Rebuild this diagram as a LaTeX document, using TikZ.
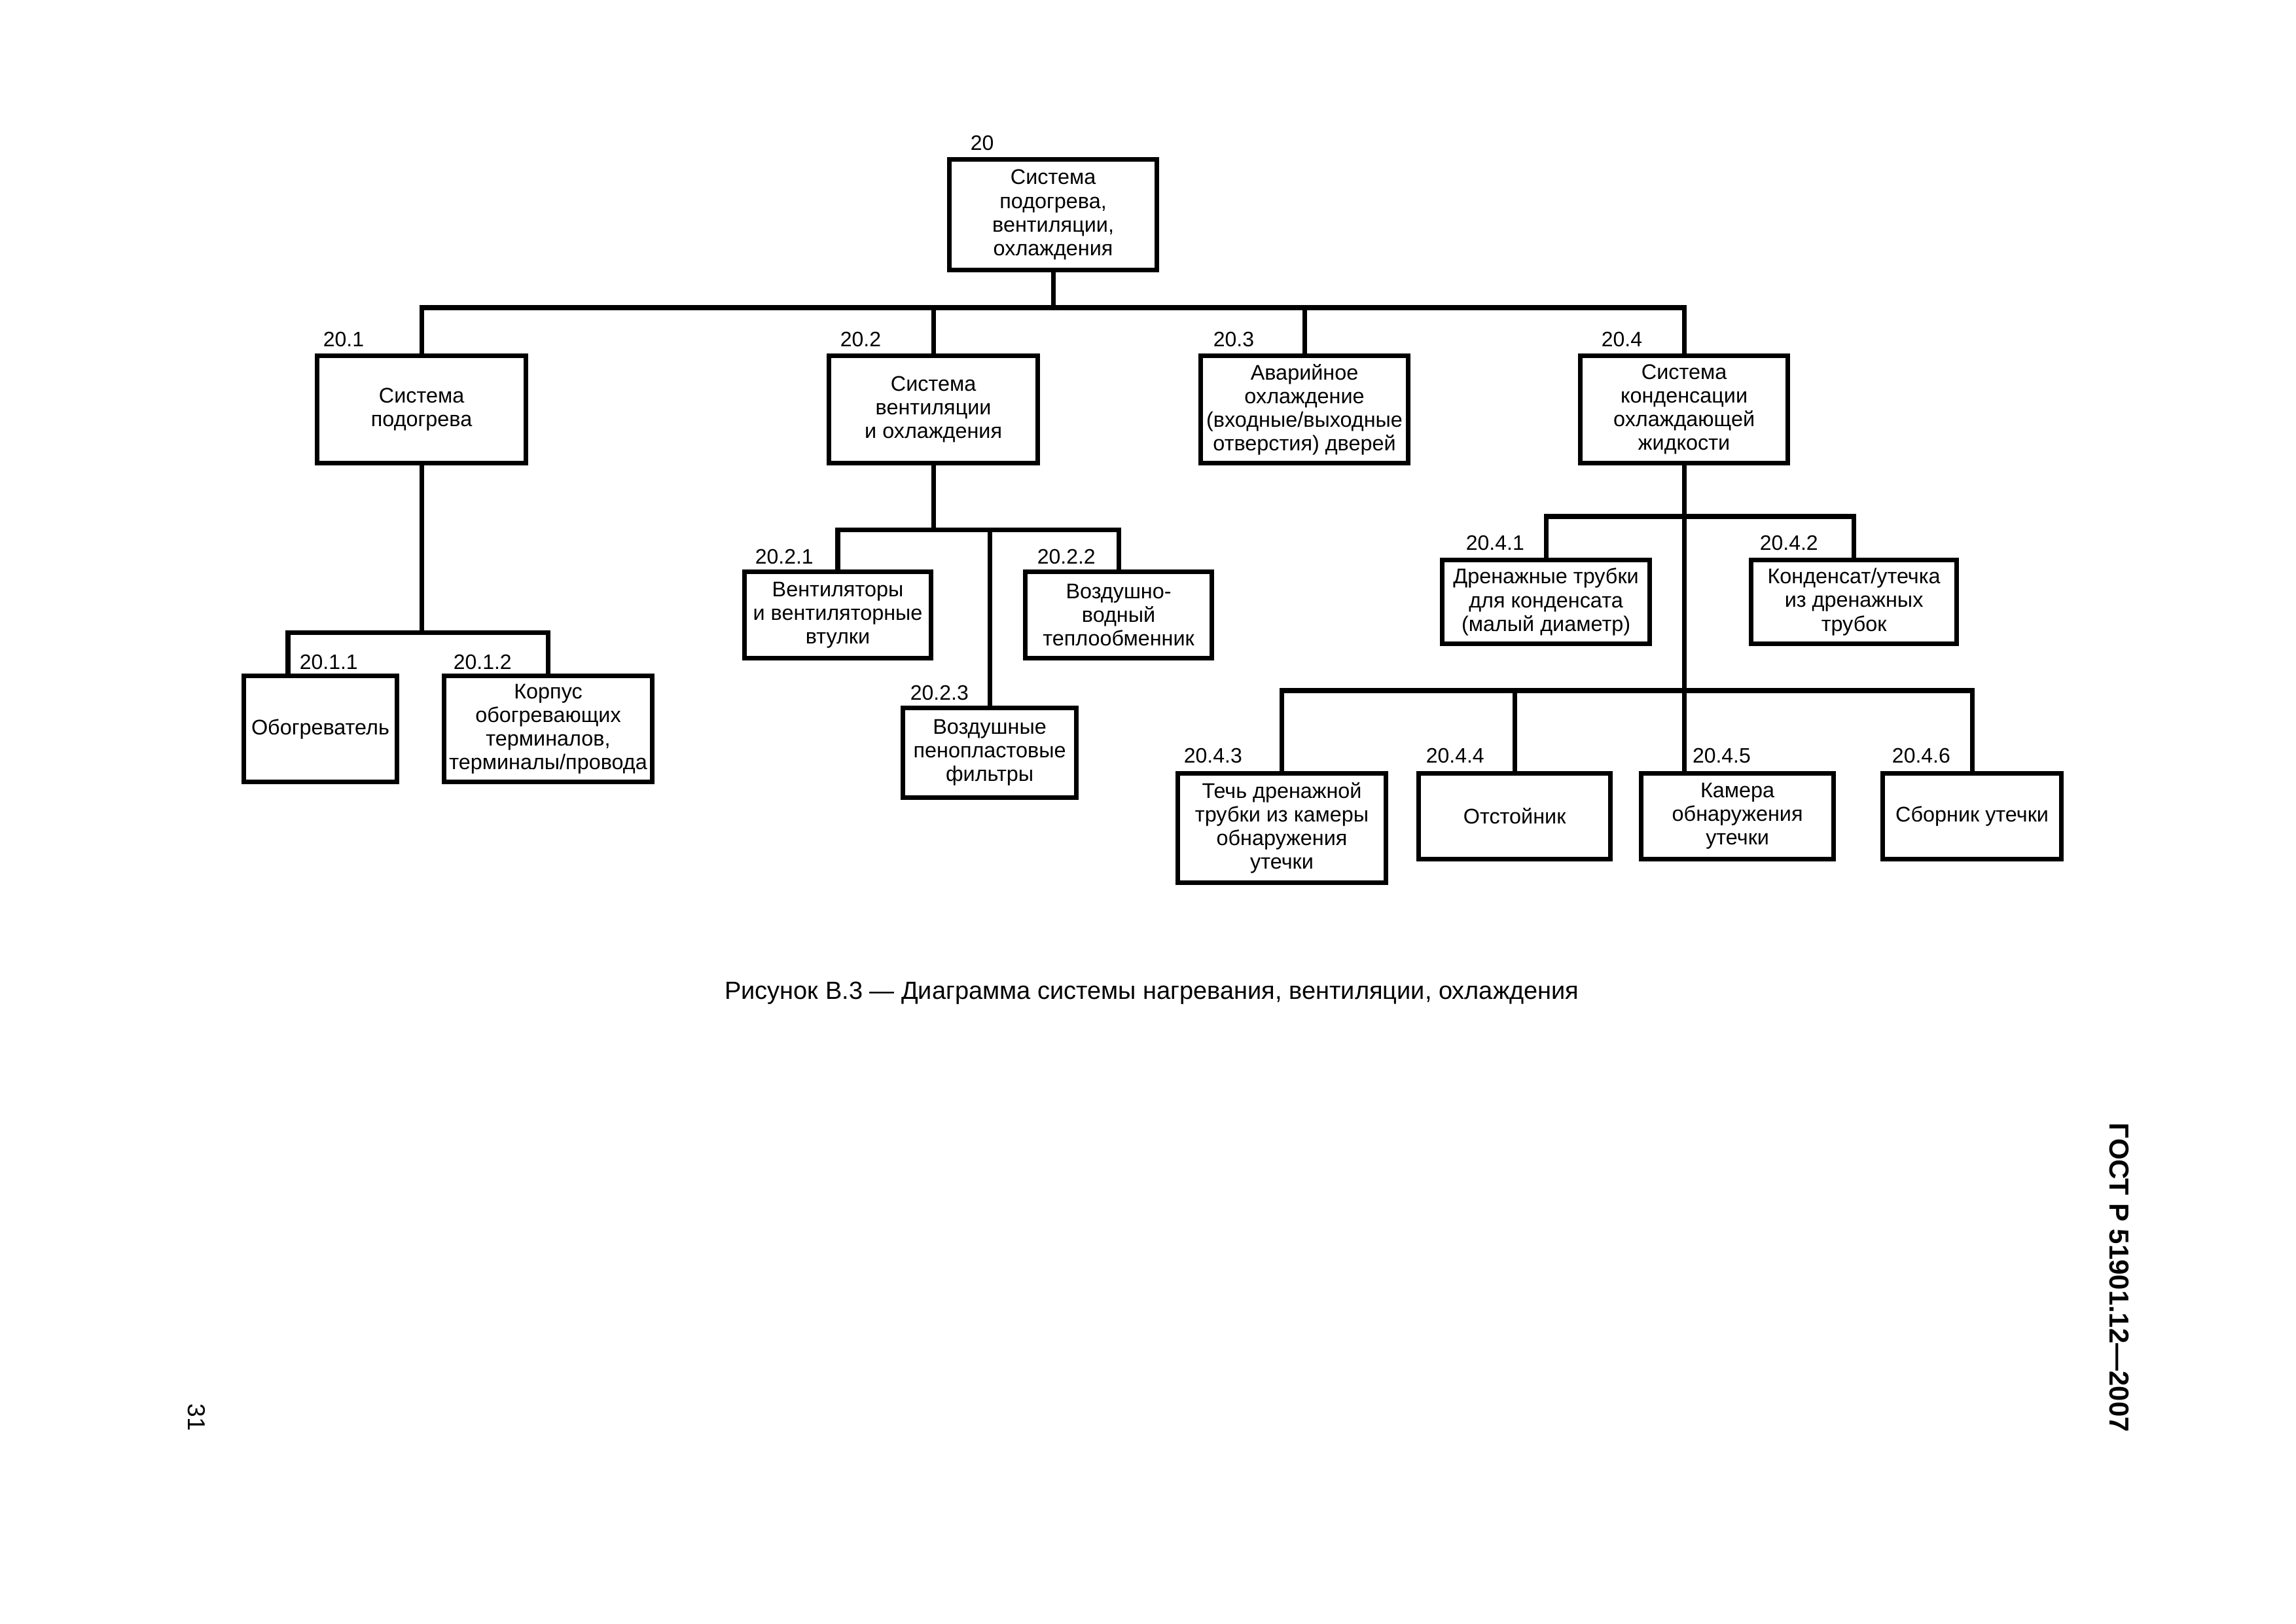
\documentclass[tikz,border=0pt]{standalone}
\usepackage{fontspec}
\setmainfont{Liberation Sans}
\begin{document}
\begin{tikzpicture}[x=1mm,y=1mm,
  box/.style={draw,line width=0.6mm,inner sep=0pt,align=center,font=\fontsize{7.8}{8.7}\selectfont},
  num/.style={anchor=base west,inner sep=0pt,font=\fontsize{7.7}{8.7}\selectfont},
  wire/.style={line width=0.6mm}]
\useasboundingbox (0,0) rectangle (297,-210);
\node[box,minimum width=26.8mm,minimum height=14.3mm] (root) at (136.23,-27.77) {Система\\подогрева,\\вентиляции,\\охлаждения};
\node[num] (n0) at (125.48,-19.47) {20};
\node[box,minimum width=27mm,minimum height=13.9mm] (b1) at (54.53,-52.96) {Система\\подогрева};
\node[box,minimum width=27mm,minimum height=13.9mm] (b2) at (120.74,-52.96) {Система\\вентиляции\\и охлаждения};
\node[box,minimum width=26.8mm,minimum height=13.9mm] (b3) at (168.74,-52.96) {Аварийное\\охлаждение\\(входные/выходные\\отверстия) дверей};
\node[box,minimum width=26.8mm,minimum height=13.9mm] (b4) at (217.85,-52.96) {Система\\конденсации\\охлаждающей\\жидкости};
\node[num] (n1) at (41.74,-44.87) {20.1};
\node[num] (n2) at (108.63,-44.87) {20.2};
\node[num] (n3) at (156.89,-44.87) {20.3};
\node[num] (n4) at (207.09,-44.87) {20.4};
\node[box,minimum width=19.8mm,minimum height=13.7mm] (b11) at (41.44,-94.28) {Обогреватель};
\node[box,minimum width=26.9mm,minimum height=13.7mm] (b12) at (70.91,-94.28) {Корпус\\обогревающих\\терминалов,\\терминалы/провода};
\node[num] (n11) at (38.69,-86.61) {20.1.1};
\node[num] (n12) at (58.59,-86.61) {20.1.2};
\node[box,minimum width=24.1mm,minimum height=11.2mm] (b21) at (108.37,-79.54) {Вентиляторы\\и вентиляторные\\втулки};
\node[box,minimum width=24.1mm,minimum height=11.2mm] (b22) at (144.70,-79.54) {Воздушно-\\водный\\теплообменник};
\node[box,minimum width=22.4mm,minimum height=11.6mm] (b23) at (128.02,-97.37) {Воздушные\\пенопластовые\\фильтры};
\node[num] (n21) at (97.62,-72.98) {20.2.1};
\node[num] (n22) at (134.11,-72.98) {20.2.2};
\node[num] (n23) at (117.69,-90.59) {20.2.3};
\node[box,minimum width=26.8mm,minimum height=10.8mm] (b41) at (199.98,-77.85) {Дренажные трубки\\для конденсата\\(малый диаметр)};
\node[box,minimum width=26.6mm,minimum height=10.8mm] (b42) at (239.82,-77.85) {Конденсат/утечка\\из дренажных\\трубок};
\node[num] (n41) at (189.57,-71.20) {20.4.1};
\node[num] (n42) at (227.58,-71.12) {20.4.2};
\node[box,minimum width=26.9mm,minimum height=14.1mm] (b43) at (165.82,-107.10) {Течь дренажной\\трубки из камеры\\обнаружения\\утечки};
\node[box,minimum width=24.8mm,minimum height=11.1mm] (b44) at (195.92,-105.58) {Отстойник};
\node[box,minimum width=24.9mm,minimum height=11.1mm] (b45) at (224.75,-105.58) {Камера\\обнаружения\\утечки};
\node[box,minimum width=23.1mm,minimum height=11.1mm] (b46) at (255.10,-105.58) {Сборник утечки};
\node[num] (n43) at (153.08,-98.64) {20.4.3};
\node[num] (n44) at (184.40,-98.64) {20.4.4};
\node[num] (n45) at (218.87,-98.64) {20.4.5};
\node[num] (n46) at (244.69,-98.64) {20.4.6};
\coordinate (j0) at (136.23,-39.79);
\coordinate (j1) at (54.53,-81.79);
\coordinate (t11) at (37.25,-81.79);
\coordinate (j2) at (120.74,-68.50);
\coordinate (j4a) at (217.85,-66.80);
\coordinate (j4b) at (217.85,-89.32);
\draw[wire] (root.south) -- (j0);
\draw[wire] (b1.north) |- (j0) -| (b4.north);
\draw[wire] (b2.north) -- (b2.north |- j0);
\draw[wire] (b3.north) -- (b3.north |- j0);
\draw[wire] (b1.south) -- (j1);
\draw[wire] (t11 |- b11.north) -- (t11) -- (j1) -| (b12.north);
\draw[wire] (b2.south) -- (j2);
\draw[wire] (b21.north) |- (j2) -| (b22.north);
\draw[wire] (b23.north) -- (b23.north |- j2);
\draw[wire] (b4.south) -- (j4b) -- (j4b |- b45.north);
\draw[wire] (b41.north) |- (j4a) -| (b42.north);
\draw[wire] (b43.north) |- (j4b) -| (b46.north);
\draw[wire] (b44.north) -- (b44.north |- j4b);
\node[anchor=base,font=\fontsize{9.15}{11}\selectfont] (cap) at (149,-129.2) {Рисунок В.3 — Диаграмма системы нагревания, вентиляции, охлаждения};
\node[rotate=-90,font=\fontsize{10.1}{12}\selectfont\bfseries] (gost) at (274.1,-165.25) {ГОСТ Р 51901.12—2007};
\node[rotate=-90,font=\fontsize{9}{11}\selectfont] (page) at (25.4,-183.3) {31};
\end{tikzpicture}
\end{document}
